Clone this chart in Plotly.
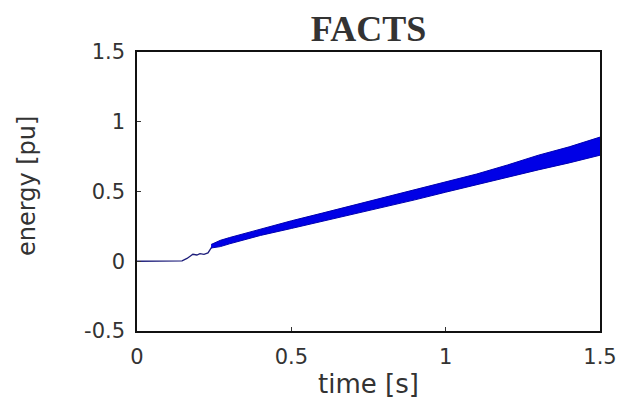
import plotly.graph_objects as go

# --- data ---
t_early = [0.0, 0.05, 0.10, 0.146, 0.162, 0.181, 0.194, 0.204, 0.217, 0.230, 0.243]
e_early = [0.0, 0.0, 0.0, 0.003, 0.02, 0.05, 0.045, 0.055, 0.05, 0.06, 0.105]

t_band = [0.24, 0.27, 0.30, 0.35, 0.40, 0.50, 0.60, 0.70, 0.80, 0.90, 1.00, 1.10, 1.20, 1.30, 1.40, 1.50]
e_upper = [0.12, 0.15, 0.17, 0.20, 0.235, 0.29, 0.345, 0.40, 0.455, 0.51, 0.565, 0.625, 0.69, 0.76, 0.82, 0.89]
e_lower = [0.095, 0.105, 0.125, 0.155, 0.185, 0.235, 0.285, 0.335, 0.39, 0.44, 0.495, 0.55, 0.605, 0.655, 0.705, 0.76]

x_ticks = [0, 0.5, 1, 1.5]
x_tick_text = ["0", "0.5", "1", "1.5"]
y_ticks = [-0.5, 0, 0.5, 1, 1.5]
y_tick_text = ["-0.5", "0", "0.5", "1", "1.5"]

title_text = "FACTS"
x_label = "time [s]"
y_label = "energy [pu]"

# page body has an 8px default margin; the figure is sized so the plot box
# lands at x 137..600, y 52..331 of the window
W, H = 618, 395
ML, MR, MT, MB = 129, 26, 44, 72
PH = H - MT - MB
PW = W - ML - MR

fig = go.Figure()
fig.add_trace(go.Scatter(x=t_early, y=e_early, mode="lines",
                         line=dict(color="#1c1c7a", width=1.3), hoverinfo="skip"))
fig.add_trace(go.Scatter(x=t_band, y=e_lower, mode="lines",
                         line=dict(color="#0000b0", width=1), hoverinfo="skip"))
fig.add_trace(go.Scatter(x=t_band, y=e_upper, mode="lines", fill="tonexty",
                         fillcolor="#0000e6",
                         line=dict(color="#0000b0", width=1), hoverinfo="skip"))

axis_common = dict(showgrid=False, zeroline=False, showline=True, linecolor="#111111",
                   linewidth=1.5, mirror=True, ticks="inside", ticklen=4,
                   tickcolor="#333333", tickwidth=1.3,
                   tickfont=dict(family="DejaVu Sans", size=21, color="#333333"))

fig.update_layout(
    width=W, height=H,
    margin=dict(l=ML, r=MR, t=MT, b=MB, autoexpand=False),
    paper_bgcolor="white", plot_bgcolor="white",
    showlegend=False,
    title=dict(text=title_text, x=(ML + PW / 2) / W, xanchor="center",
               y=1 - 20 / H, yanchor="middle", yref="container",
               font=dict(family="Liberation Serif", size=36, color="#333333", weight="bold"),
               ),
    xaxis=dict(range=[0, 1.5], tickvals=x_ticks, ticktext=x_tick_text,
               ticklabelstandoff=6, **axis_common),
    yaxis=dict(range=[-0.5, 1.5], tickvals=y_ticks, ticktext=y_tick_text,
               ticklabelstandoff=6, **axis_common),
    annotations=[
        dict(text=x_label, xref="paper", yref="paper", x=0.5, y=-36 / PH,
             xanchor="center", yanchor="top", showarrow=False,
             font=dict(family="DejaVu Sans", size=26, color="#333333")),
        dict(text=y_label, xref="paper", yref="paper", x=(19 - ML) / PW, y=(PH - 134) / PH,
             xanchor="center", yanchor="middle", textangle=-90, showarrow=False,
             font=dict(family="DejaVu Sans", size=24, color="#333333")),
    ],
)

fig.write_html("out.html")
